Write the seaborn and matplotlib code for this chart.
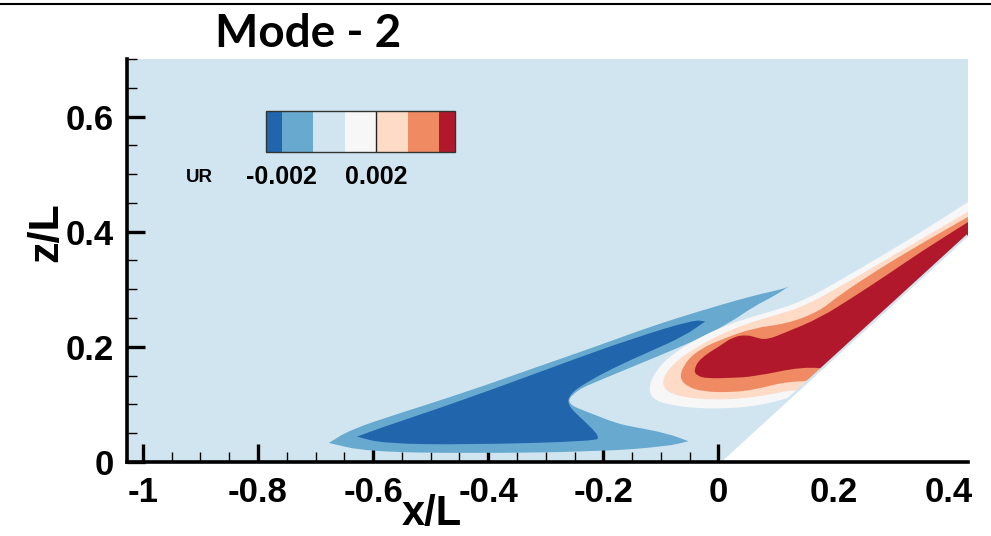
import matplotlib
matplotlib.use('Agg')
import numpy as np
import matplotlib as mpl
import matplotlib.pyplot as plt
import seaborn as sns
from matplotlib.colors import ListedColormap, BoundaryNorm
from matplotlib.lines import Line2D
from matplotlib.path import Path
from matplotlib.patches import PathPatch
from matplotlib.ticker import MultipleLocator

# contour levels of UR and the 7 band colours (blue -> red)
levels = [-0.002, -0.000667, 0.000667, 0.002, 0.00333, 0.00467]
band_colors = ['#2166ac', '#67a9cf', '#d1e5f0', '#f7f7f7', '#fddbc7', '#ef8a62', '#b2182b']
cbar_ticks = [-0.002, 0.002]
cbar_labels = ['-0.002', '0.002']

x_ticks = [-1, -0.8, -0.6, -0.4, -0.2, 0, 0.2, 0.4]
x_labels = ['-1', '-0.8', '-0.6', '-0.4', '-0.2', '0', '0.2', '0.4']
z_ticks = [0, 0.2, 0.4, 0.6]
z_labels = ['0', '0.2', '0.4', '0.6']

# region outlines (x/L, z/L); a repeated point keeps a sharp tip
# UR < -0.000667
blue_x = [-0.677, -0.677, -0.611, -0.437, -0.206, -0.090, -0.052, -0.052, -0.090, -0.148, -0.177,
          -0.223, -0.266, -0.246, -0.206, -0.148, -0.090, -0.032, 0.020, 0.061, 0.100, 0.122,
          0.122, 0.110, 0.078, 0.032, -0.026, -0.113, -0.206, -0.321, -0.437, -0.553, -0.640]
blue_z = [0.033, 0.033, 0.018, 0.015, 0.018, 0.027, 0.036, 0.036, 0.050, 0.061, 0.067,
          0.085, 0.102, 0.125, 0.142, 0.166, 0.190, 0.215, 0.242, 0.270, 0.290, 0.305,
          0.305, 0.300, 0.293, 0.281, 0.264, 0.237, 0.203, 0.163, 0.122, 0.085, 0.056]
# UR < -0.002
dblue_x = [-0.628, -0.628, -0.582, -0.437, -0.215, -0.206, -0.235, -0.263, -0.258, -0.223,
           -0.177, -0.119, -0.061, -0.023, -0.023, -0.043, -0.148, -0.263, -0.379, -0.495, -0.582]
dblue_z = [0.044, 0.044, 0.032, 0.030, 0.036, 0.044, 0.073, 0.099, 0.119, 0.142,
           0.166, 0.192, 0.218, 0.244, 0.244, 0.247, 0.215, 0.174, 0.131, 0.090, 0.061]
# UR > 0.000667
white_x = [0.434, 0.434, 0.35, 0.28, 0.21, 0.15, 0.10, 0.05, 0.00, -0.04, -0.08, -0.108, -0.122,
           -0.115, -0.09, -0.04, 0.02, 0.07, 0.11, 0.15, 0.30, 0.434, 0.434]
white_z = [0.452, 0.452, 0.398, 0.356, 0.315, 0.281, 0.264, 0.250, 0.232, 0.212, 0.188, 0.160, 0.130,
           0.110, 0.100, 0.093, 0.093, 0.098, 0.108, 0.120, 0.250, 0.370, 0.370]
# UR > 0.002
peach_x = [0.434, 0.434, 0.35, 0.28, 0.21, 0.15, 0.10, 0.05, 0.00, -0.04, -0.07, -0.090, -0.098,
           -0.09, -0.06, -0.01, 0.04, 0.09, 0.13, 0.16, 0.30, 0.434, 0.434]
peach_z = [0.435, 0.435, 0.386, 0.345, 0.304, 0.271, 0.255, 0.241, 0.220, 0.198, 0.178, 0.157, 0.138,
           0.122, 0.112, 0.108, 0.110, 0.117, 0.126, 0.120, 0.250, 0.370, 0.370]
# UR > 0.00333
orange_x = [0.434, 0.434, 0.35, 0.28, 0.21, 0.176, 0.119, 0.061, 0.003, -0.03, -0.055, -0.069,
            -0.055, -0.026, 0.02, 0.061, 0.119, 0.17, 0.30, 0.434, 0.434]
orange_z = [0.426, 0.426, 0.378, 0.336, 0.290, 0.262, 0.240, 0.233, 0.212, 0.197, 0.177, 0.148,
            0.131, 0.122, 0.121, 0.125, 0.140, 0.140, 0.250, 0.370, 0.370]
# UR > 0.00467
red_x = [0.434, 0.434, 0.35, 0.293, 0.235, 0.176, 0.119, 0.084, 0.065, 0.049, 0.025, 0.003, -0.032,
         -0.043, -0.038, -0.020, 0.02, 0.061, 0.148, 0.20, 0.30, 0.434, 0.434]
red_z = [0.417, 0.417, 0.364, 0.325, 0.287, 0.250, 0.226, 0.212, 0.216, 0.221, 0.217, 0.202, 0.180,
         0.160, 0.150, 0.145, 0.146, 0.148, 0.166, 0.160, 0.250, 0.370, 0.370]
# no-data wedge under the body
wedge_x = [0.005, 0.434, 0.434]
wedge_z = [0.0, 0.392, 0.0]


def outline(xs, zs):
    # closed outline, drawn by matplotlib as quadratic curves through the edge midpoints
    pts = np.column_stack([xs, zs])
    mids = (pts + np.roll(pts, -1, axis=0)) / 2
    verts = [mids[-1]]
    codes = [Path.MOVETO]
    for p, m in zip(pts, mids):
        verts += [p, m]
        codes += [Path.CURVE3, Path.CURVE3]
    verts.append(mids[-1])
    codes.append(Path.CLOSEPOLY)
    return Path(verts, codes)


sns.set_theme(style='ticks')
plt.rcParams['font.family'] = ['Liberation Sans', 'DejaVu Sans']
plt.rcParams['axes.unicode_minus'] = False
for k in ['text.color', 'axes.labelcolor', 'xtick.color', 'ytick.color']:
    plt.rcParams[k] = 'black'

fig = plt.figure(figsize=(9.91, 5.36), dpi=100)
ax = fig.add_axes([0.1285, 0.1381, 0.8486, 0.7519])
ax.set_facecolor(band_colors[2])

for xs, zs, c in [(blue_x, blue_z, band_colors[1]), (dblue_x, dblue_z, band_colors[0]),
                  (white_x, white_z, band_colors[3]), (peach_x, peach_z, band_colors[4]),
                  (orange_x, orange_z, band_colors[5]), (red_x, red_z, band_colors[6])]:
    ax.add_patch(PathPatch(outline(xs, zs), facecolor=c, lw=0, zorder=1))

ax.plot(wedge_x[:2], wedge_z[:2], color=band_colors[2], lw=3.5, zorder=2, solid_capstyle='butt')
ax.fill(wedge_x, wedge_z, color='white', lw=0, zorder=3)

ax.set_xlim(-1.027, 0.434)
ax.set_ylim(0, 0.700)
sns.despine(ax=ax)
for s in ['left', 'bottom']:
    ax.spines[s].set_linewidth(2.6)
    ax.spines[s].set_color('black')
    ax.spines[s].set_zorder(5)

ax.set_xticks(x_ticks)
ax.set_xticklabels(x_labels)
ax.set_yticks(z_ticks)
ax.set_yticklabels(z_labels)
ax.xaxis.set_minor_locator(MultipleLocator(0.05))
ax.yaxis.set_minor_locator(MultipleLocator(0.05))
ax.tick_params(which='major', direction='in', length=13, width=2.4, color='black',
               labelsize=25, pad=10, labelcolor='black')
ax.tick_params(which='minor', direction='in', length=7.5, width=1.0, color='black')
for t in ax.get_xticklabels() + ax.get_yticklabels():
    t.set_fontweight('bold')

ax.set_xlabel('x/L', fontsize=30, fontweight='bold', color='black')
ax.xaxis.set_label_coords(0.362, -0.130)
ax.xaxis.label.set_va('center')
ax.set_ylabel('z/L', fontsize=31, fontweight='bold', color='black')
ax.yaxis.set_label_coords(-0.096, 0.571)
ax.yaxis.label.set_va('center')

# legend bar
cax = fig.add_axes([266 / 991, 1 - 152.3 / 536, 189 / 991, 41.6 / 536])
cmap = ListedColormap(band_colors[1:-1])
cmap.set_under(band_colors[0])
cmap.set_over(band_colors[-1])
norm = BoundaryNorm(levels, cmap.N)
cb = fig.colorbar(mpl.cm.ScalarMappable(norm=norm, cmap=cmap), cax=cax,
                  orientation='horizontal', extend='both', extendrect=True,
                  extendfrac=0.1, ticks=cbar_ticks, spacing='uniform')
cb.minorticks_off()
cb.outline.set_linewidth(1.0)
cb.outline.set_edgecolor('#333333')
cax.axvline(0.002, color='#222222', lw=1.0)
cb.set_ticklabels(cbar_labels)
cax.tick_params(which='both', length=0, pad=9, labelsize=18, labelcolor='black')
for t in cax.get_xticklabels():
    t.set_fontweight('bold')
fig.text(199 / 991, 1 - 178 / 536, 'UR', fontsize=13.5, fontweight='bold',
         ha='center', va='center')

fig.text(308 / 991, 1 - 34 / 536, 'Mode - 2', fontsize=33, fontweight='bold',
         ha='center', va='center', family=['Lato', 'DejaVu Sans'])
fig.add_artist(Line2D([0, 1], [1 - 4 / 536] * 2, transform=fig.transFigure,
                      color='black', lw=1.5))

fig.savefig('out.png', dpi=100)
